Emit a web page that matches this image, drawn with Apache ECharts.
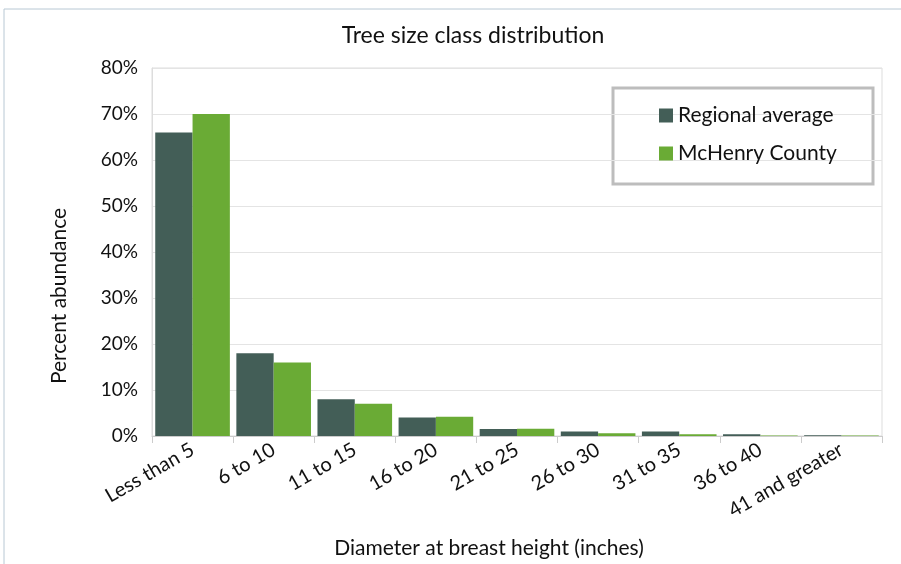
<!DOCTYPE html>
<html><head><meta charset="utf-8">
<script src="https://cdn.jsdelivr.net/npm/echarts@6/dist/echarts.min.js"></script>
<style>html,body{margin:0;padding:0;background:#fff}#c{width:901px;height:564px}</style>
</head><body><div id="c"></div>
<script>
const categories = ['Less than 5','6 to 10','11 to 15','16 to 20','21 to 25','26 to 30','31 to 35','36 to 40','41 and greater'];
const regional = [66, 18, 8, 4, 1.5, 1.0, 1.0, 0.4, 0.15];
const mchenry = [70, 16, 7, 4.2, 1.6, 0.6, 0.4, 0.1, 0.1];
const yTicks = [0,10,20,30,40,50,60,70,80];
const FONT = 'Lato, "Open Sans", sans-serif';
const chart = echarts.init(document.getElementById('c'));
chart.setOption({
  animation:false,
  textStyle:{fontFamily:FONT},
  title:{text:'Tree size class distribution',left:468,top:19,textAlign:'center',textStyle:{fontFamily:FONT,fontSize:23,fontWeight:'normal',color:'#111'}},
  graphic:[
    {type:'rect',shape:{x:4,y:9,width:900,height:570},style:{fill:'none',stroke:'#b8c8d4',lineWidth:1},silent:true},
    {type:'rect',shape:{x:613,y:88,width:260,height:96},style:{fill:'#fff',stroke:'#bdbdbd',lineWidth:3},z:0}
  ],
  legend:{orient:'vertical',left:654,top:100,itemWidth:14,itemHeight:14,itemGap:17,icon:'rect',
    textStyle:{fontFamily:FONT,fontSize:21,color:'#111'},data:['Regional average','McHenry County'],z:10},
  grid:{left:152,right:19,top:68,bottom:124,containLabel:false,show:true,borderColor:'#ddd',borderWidth:1},
  xAxis:{type:'category',data:categories,
    axisLine:{lineStyle:{color:'#ccc'}},axisTick:{show:true,length:7,lineStyle:{color:'#ccc'}},
    axisLabel:{rotate:30,fontFamily:FONT,fontSize:20,color:'#111',margin:12,interval:0},
    name:'Diameter at breast height (inches)',nameLocation:'middle',nameGap:102,
    nameTextStyle:{fontFamily:FONT,fontSize:21,color:'#111',padding:[0,56,0,0]}},
  yAxis:{type:'value',min:0,max:80,interval:10,
    axisLine:{show:true,lineStyle:{color:'#ddd'}},axisTick:{show:false},
    splitLine:{lineStyle:{color:'#e4e4e4'}},
    axisLabel:{formatter:v=>yTicks.includes(v)?v+'%':'',fontFamily:FONT,fontSize:19,color:'#111',margin:14},
    name:'Percent abundance',nameLocation:'middle',nameGap:82,
    nameTextStyle:{fontFamily:FONT,fontSize:21,color:'#111',padding:[0,88,0,0]}},
  series:[
    {name:'Regional average',type:'bar',data:regional,barGap:'0%',barCategoryGap:'8%',itemStyle:{color:'#435e57'}},
    {name:'McHenry County',type:'bar',data:mchenry,itemStyle:{color:'#6aab35'}}
  ]
});
</script></body></html>
